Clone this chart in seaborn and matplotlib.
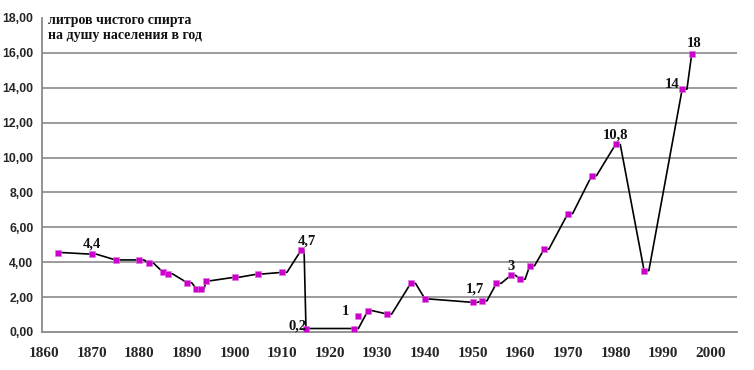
import matplotlib
matplotlib.use("Agg")
import matplotlib.pyplot as plt
from matplotlib import font_manager
import seaborn as sns
import pandas as pd
import numpy as np

# ---------------- data ----------------
years = [1863, 1870, 1875, 1880, 1882, 1885, 1886, 1890, 1892, 1893, 1894,
         1900, 1905, 1910, 1914, 1915, 1925, 1928, 1932, 1937, 1940, 1950,
         1952, 1955, 1958, 1960, 1962, 1965, 1970, 1975, 1980, 1986, 1994, 1996]
litres = [4.55, 4.46, 4.13, 4.13, 3.94, 3.42, 3.33, 2.83, 2.45, 2.45, 2.94,
          3.14, 3.33, 3.42, 4.70, 0.20, 0.20, 1.22, 1.03, 2.79, 1.89, 1.70,
          1.79, 2.79, 3.25, 3.02, 3.80, 4.75, 6.79, 8.96, 10.75, 3.52, 13.92, 15.94]
extra_years = [1926]
extra_litres = [0.92]

label_years = [1870, 1914, 1915, 1926, 1950, 1958, 1980, 1994, 1996]
label_values = [4.46, 4.70, 0.20, 0.92, 1.70, 3.25, 10.75, 13.92, 15.94]
label_texts = ["4,4", "4,7", "0,2", "1", "1,7", "3", "10,8", "14", "18"]

y_ticks = [0, 2, 4, 6, 8, 10, 12, 14, 16, 18]
x_label_years = [1860, 1870, 1880, 1890, 1900, 1910, 1920, 1930, 1940,
                 1950, 1960, 1970, 1980, 1990, 2000]
title_text = "литров чистого спирта\nна душу населения в год"

# ---------------- style ----------------
sns.set_style("white")
installed = {f.name for f in font_manager.fontManager.ttflist}
sans = "Liberation Sans" if "Liberation Sans" in installed else "DejaVu Sans"
serif = "Liberation Serif" if "Liberation Serif" in installed else "DejaVu Serif"
plt.rcParams["font.family"] = [serif, "DejaVu Sans"]

GRAY = "#8a8a8a"
MAGENTA = "#cc00cc"

fig = plt.figure(figsize=(7.54, 3.70), dpi=100)
ax = fig.add_axes([41.7 / 754, 38 / 370, (737 - 41.7) / 754, (332 - 18) / 370])

# line with a short horizontal run after every point
px, py = [], []
for i, (x, y) in enumerate(zip(years, litres)):
    gap = years[i + 1] - x if i + 1 < len(years) else 1.0
    run = min(1.0, 0.6 * gap)
    px += [x, x + run]
    py += [y, y]
path = pd.DataFrame({"year": px, "value": py})
sns.lineplot(data=path, x="year", y="value", sort=False, estimator=None,
             color="black", linewidth=1.2, ax=ax, zorder=3)

pts = pd.DataFrame({"year": years + extra_years, "value": litres + extra_litres})
sns.scatterplot(data=pts, x="year", y="value", marker="s", s=15, color=MAGENTA,
                edgecolor="#e070e0", linewidth=0.4, ax=ax, zorder=4)

# annotations (offsets in points)
offsets = {"4,4": (0, 7), "4,7": (4, 6.5), "0,2": (-6, 1.5), "1": (-9, 3.5),
           "1,7": (1.5, 9.5), "3": (0, 6.5), "10,8": (0, 6.5), "14": (-7, 3.5),
           "18": (1.5, 7.2)}
for xv, yv, t in zip(label_years, label_values, label_texts):
    dx, dy = offsets[t]
    ax.annotate(t, (xv, yv), xytext=(dx, dy), textcoords="offset points",
                ha="center", va="center", fontsize=10.5, fontweight="bold",
                family=serif, color="#111111", zorder=5)

# axes
ax.set_xlim(1859.5, 1859.5 + (737 - 41.7) / 4.762)
ax.set_ylim(0, 18)
ax.set_xlabel("")
ax.set_ylabel("")
for s in ["top", "right"]:
    ax.spines[s].set_visible(False)
for s in ["left", "bottom"]:
    ax.spines[s].set_color(GRAY)
    ax.spines[s].set_linewidth(1.3)

ax.set_yticks(y_ticks)
ax.set_yticklabels([f"{v:.2f}".replace(".", ",") for v in y_ticks],
                   fontfamily=sans, fontweight="bold", fontsize=8.8)
ax.tick_params(axis="y", direction="out", length=5, width=1.2, color=GRAY, pad=1)

ax.set_xticks(np.arange(1859.5, 2005, 5))
ax.set_xticklabels([])
ax.tick_params(axis="x", which="major", direction="inout", length=6, width=1.1, color=GRAY)
ax.set_xticks(x_label_years, minor=True)
ax.set_xticklabels([str(v) for v in x_label_years], minor=True,
                   fontfamily=serif, fontweight="bold", fontsize=11)
ax.tick_params(axis="x", which="minor", length=0, pad=11)

ax.yaxis.grid(True, color=GRAY, linewidth=1.2)
ax.xaxis.grid(False)
ax.set_axisbelow(True)
for gl, v in zip(ax.get_ygridlines(), y_ticks):
    if v in (0, 18):
        gl.set_visible(False)

fig.text(48 / 754, 1 - 14 / 370, title_text, ha="left", va="top", fontsize=10,
         fontweight="bold", family=serif, linespacing=1.2, color="#111111")

fig.savefig("out.png", dpi=100)
